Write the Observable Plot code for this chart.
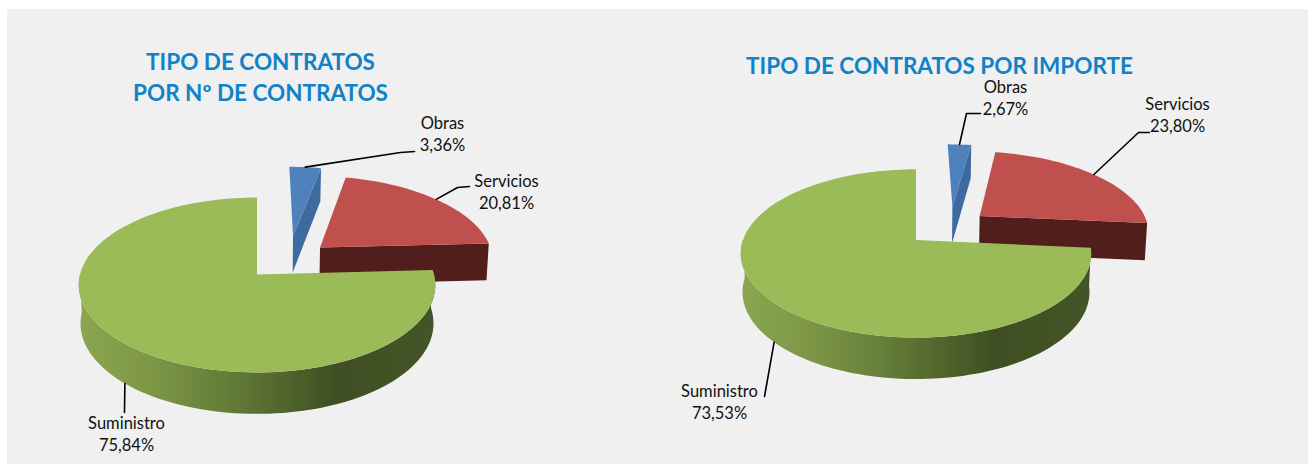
<!DOCTYPE html>
<html><head><meta charset="utf-8">
<style>
html,body{margin:0;padding:0;background:#fff;}
#wrap{position:relative;width:1314px;height:465px;overflow:hidden;}
#panel{position:absolute;left:7px;top:9px;width:1301px;height:455px;background:#f0f0f0;}
#chart{position:absolute;left:0;top:0;}
</style>
<script src="https://cdn.jsdelivr.net/npm/d3@7"></script>
<script src="https://cdn.jsdelivr.net/npm/@observablehq/plot@0.6"></script>
</head><body>
<div id="wrap"><div id="panel"></div><div id="chart"></div></div>
<script>
// ---- data ----
const categories = ["Obras", "Servicios", "Suministro"];
const porNumero = [3.36, 20.81, 75.84];
const porImporte = [2.67, 23.80, 73.53];
const titles = ["TIPO DE CONTRATOS\nPOR Nº DE CONTRATOS", "TIPO DE CONTRATOS POR IMPORTE"];

// ---- layout of the two perspective pies ----
const pies = [
  {values: porNumero, x0: 256.5, y0: 274, B: 177, A: 86.2, k: 0.12,
   explode: [[0.215, 0.47], [0.37, 0.324], [0, 0]],
   title: {x: 260, y: 75},
   labels: [{x: 442, y: 132}, {x: 506, y: 190.5}, {x: 126, y: 432.5}],
   elbows: [[[400, 152], [414, 151]], [[457, 187], [469, 186]], [[124, 412]]],
   depthAnchor: [0, 0, 1]},
  {values: porImporte, x0: 915.5, y0: 239.5, B: 173, A: 82, k: 0.16,
   explode: [[0.225, 0.434], [0.386, 0.306], [0, 0]],
   title: {x: 939, y: 63.5},
   labels: [{x: 1005, y: 96}, {x: 1177, y: 113}, {x: 719, y: 400.5}],
   elbows: [[[966, 113], [980, 113]], [[1138, 132], [1149, 132]], [[764, 396]]],
   depthAnchor: [0, 0, 1]}
];
const topColors = ["#4f81bd", "#c0504d", "#9bbb59"];
const wallColors = ["#3d6a9f", "#521e1b", "url(#sideGrad)"];
const rad = Math.PI / 180;

function project(p, u, v) {
  const d = 1 + p.k * v;
  return {x: p.x0 + p.B * u / d, y: p.y0 - p.A * v / d};
}
function lower(p, u, v) {
  const q = project(p, u, v);
  return {x: p.x0 + (q.x - p.x0) * 0.99, y: q.y + 38 * (1 - 0.09 * v)};
}
function rim(a0, a1) {
  const n = Math.max(2, Math.ceil(Math.abs(a1 - a0) / 2));
  return d3.range(n + 1).map(i => a0 + (a1 - a0) * i / n);
}

const polys = [], leaders = [], labelRows = [];
pies.forEach((p, pi) => {
  // clockwise from 12 o'clock: Obras, Servicios, then Suministro back to the top
  const sum = d3.sum(p.values);
  let a = 90;
  const spans = p.values.map(v => { const s = [a, a - v / sum * 360]; a = s[1]; return s; });
  const drawOrder = [1, 0, 2];
  drawOrder.forEach(i => {
    const [a0, a1] = spans[i], [eu, ev] = p.explode[i];
    const pt = (f, ang) => f(p, eu + Math.cos(ang * rad), ev + Math.sin(ang * rad));
    const apexT = project(p, eu, ev), apexB = lower(p, eu, ev);
    const arc = rim(a0, a1);
    if (i === 2) {
      // outer skin of the big slice, seen along the front of the pie
      const front = rim(a0, -180);
      polys.push({fill: wallColors[i], points: [
        ...front.map(t => pt(project, t)),
        ...front.slice().reverse().map(t => pt(lower, t))
      ]});
    } else {
      // cut wall, seen from the front
      polys.push({fill: wallColors[i], points: [apexT, pt(project, a1), pt(lower, a1), apexB]});
    }
    polys.push({fill: topColors[i], points: [apexT, ...arc.map(t => pt(project, t))]});

    const mid = (a0 + a1) / 2;
    const start = p.depthAnchor[i] ? pt(lower, mid) : pt(project, mid);
    leaders.push([start, ...p.elbows[i].map(([x, y]) => ({x, y}))]);
    labelRows.push({
      x: p.labels[i].x, y: p.labels[i].y,
      text: categories[i] + "\n" + p.values[i].toFixed(2).replace(".", ",") + "%"
    });
  });
});

const titleRows = pies.map((p, i) => ({x: p.title.x, y: p.title.y, text: titles[i]}));

const gradient = () => {
  const defs = d3.create("svg:defs");
  const g = defs.append("linearGradient").attr("id", "sideGrad")
    .attr("x1", 0).attr("x2", 1).attr("y1", 0).attr("y2", 0);
  [[0, "#8aa651"], [0.2, "#7d9747"], [0.4, "#667f39"], [0.58, "#50642c"], [0.72, "#3f4f23"], [1, "#445527"]]
    .forEach(([o, c]) => g.append("stop").attr("offset", o).attr("stop-color", c));
  return defs.node();
};

const chart = Plot.plot({
  width: 1314, height: 465, margin: 0,
  style: {background: "transparent", fontFamily: "Lato, Carlito, sans-serif"},
  x: {domain: [0, 1314], range: [0, 1314], axis: null},
  y: {domain: [0, 465], range: [0, 465], axis: null},
  marks: [
    gradient,
    ...polys.map(p => Plot.line(p.points, {x: "x", y: "y", fill: p.fill, stroke: "none"})),
    ...leaders.map(l => Plot.line(l, {x: "x", y: "y", stroke: "#000", strokeWidth: 1.6})),
    Plot.text(labelRows, {x: "x", y: "y", text: "text", fontSize: 16.5, lineHeight: 1.34, fill: "#111"}),
    Plot.text(titleRows, {x: "x", y: "y", text: "text", fontSize: 22.5, fontWeight: 700, lineHeight: 1.38, fill: "#0f82c8"})
  ]
});
document.getElementById("chart").appendChild(chart);
</script>
</body></html>
